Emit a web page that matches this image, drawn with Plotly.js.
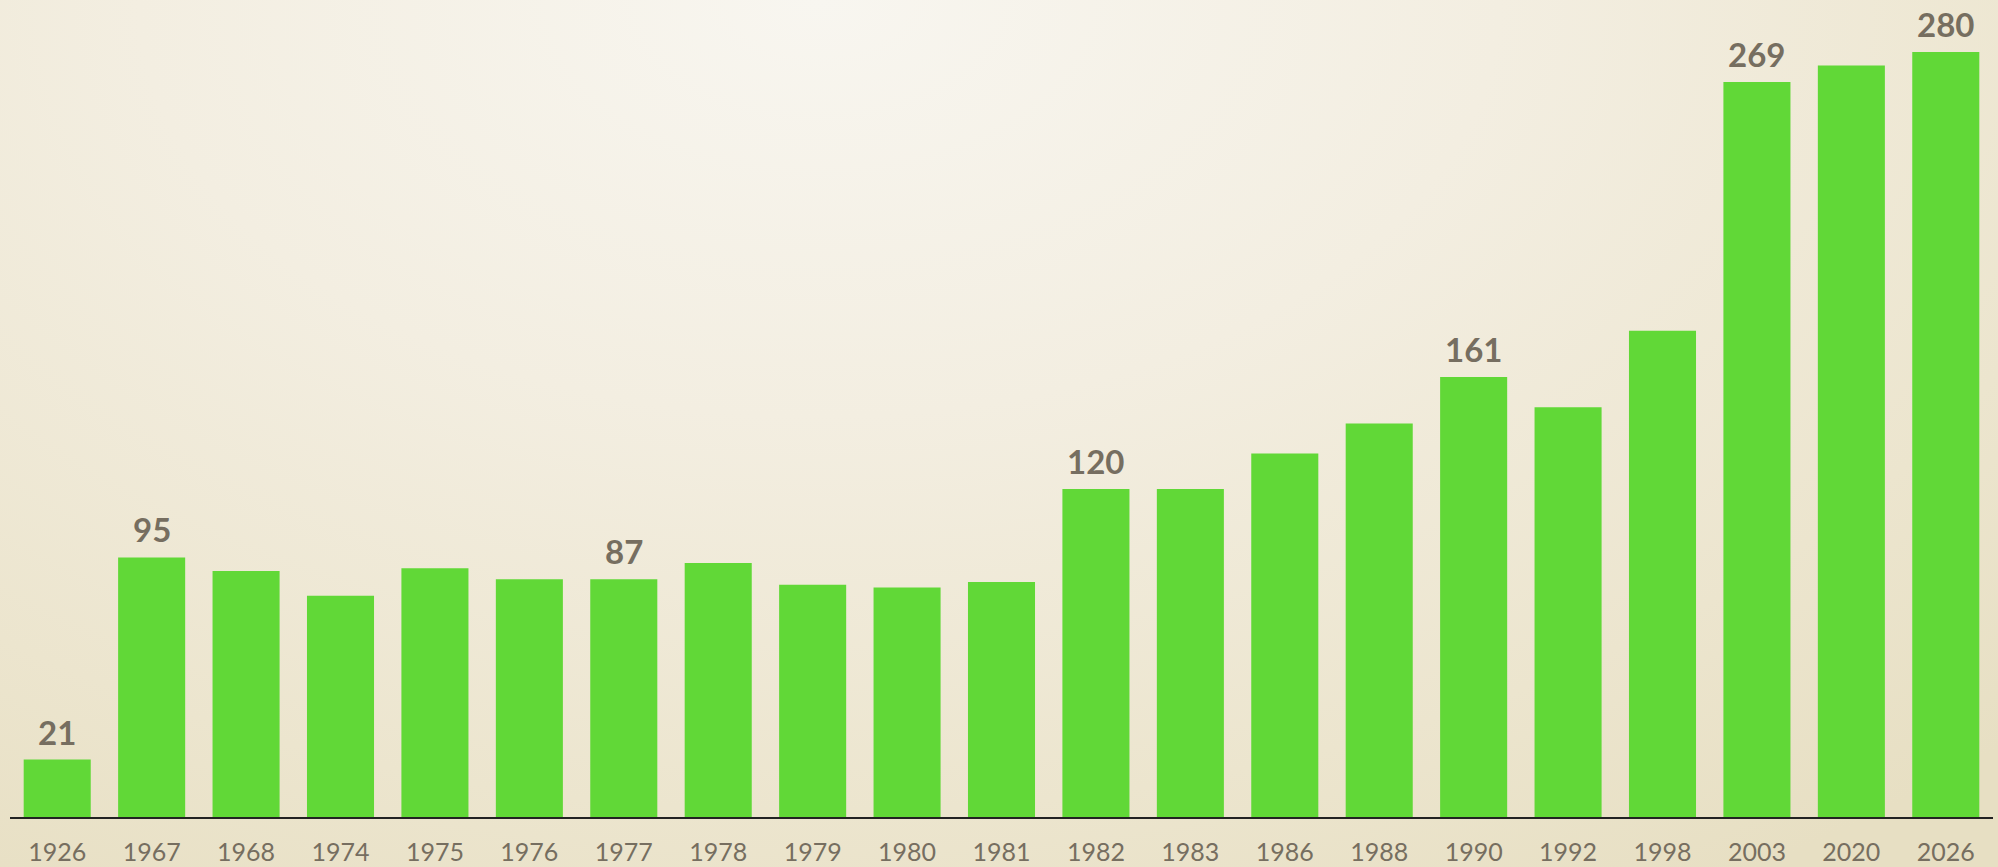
<!DOCTYPE html>
<html>
<head>
<meta charset="utf-8">
<script src="https://cdn.plot.ly/plotly-3.0.1.min.js"></script>
<style>
  html, body { margin: 0; padding: 0; width: 1998px; height: 867px; overflow: hidden; }
  body { background: radial-gradient(ellipse 85% 120% at 41% 0%, #f8f6f0 0%, #f3eee1 40%, #ece5ce 78%, #e7dfc3 100%); }
  #chart { width: 1998px; height: 867px; }
</style>
</head>
<body>
<div id="chart"></div>
<script>
const years = ["1926","1967","1968","1974","1975","1976","1977","1978","1979","1980","1981","1982","1983","1986","1988","1990","1992","1998","2003","2020","2026"];
const values = [21, 95, 90, 81, 91, 87, 87, 93, 85, 84, 86, 120, 120, 133, 144, 161, 150, 178, 269, 275, 280];
const labelShown = [true, true, false, false, false, false, true, false, false, false, false, true, false, false, false, true, false, false, true, false, true];

const textColor = "#766e60";
const barColor = "#61d837";

const annotations = [];
years.forEach((y, i) => {
  if (labelShown[i]) {
    annotations.push({
      x: i, y: values[i], xref: "x", yref: "y",
      text: String(values[i]), showarrow: false,
      yanchor: "middle", yshift: 28,
      font: { family: "Lato, 'Open Sans', sans-serif", size: 33, color: textColor, weight: "bold" }
    });
  }
});

const trace = {
  type: "bar",
  x: years,
  y: values,
  marker: { color: barColor, line: { width: 0 } },
  hoverinfo: "none"
};

const layout = {
  width: 1998, height: 867,
  margin: { l: 10, r: 5, t: 0, b: 50 },
  paper_bgcolor: "rgba(0,0,0,0)",
  plot_bgcolor: "rgba(0,0,0,0)",
  bargap: 0.29,
  showlegend: false,
  xaxis: {
    type: "category",
    range: [-0.5, years.length - 0.5],
    showline: true, linecolor: "#222222", linewidth: 1.5,
    showgrid: false, zeroline: false, ticks: "",
    ticklabelstandoff: 12,
    tickfont: { family: "Lato, 'Open Sans', sans-serif", size: 25, color: textColor },
    fixedrange: true
  },
  yaxis: {
    range: [0, 299],
    visible: false, showgrid: false, zeroline: false, fixedrange: true
  },
  annotations: annotations
};

Plotly.newPlot("chart", [trace], layout, { displayModeBar: false, staticPlot: true });
</script>
</body>
</html>
